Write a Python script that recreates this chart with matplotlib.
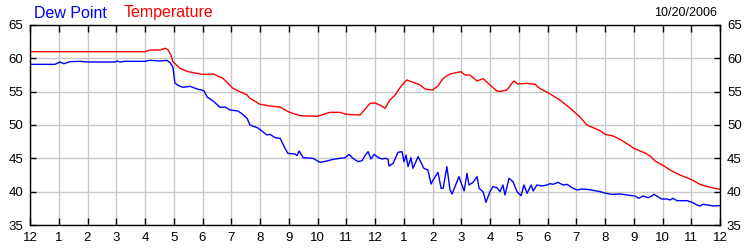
import matplotlib
matplotlib.use("Agg")
import matplotlib.pyplot as plt

plt.rcParams['font.family'] = ['Liberation Sans', 'DejaVu Sans']

# hours since midnight (0..24)
temp_hours = [0, 4.0, 4.17, 4.52, 4.70, 4.80, 4.90, 4.97, 5.22, 5.50, 5.98, 6.19, 6.37, 6.71,
              7.06, 7.30, 7.55, 7.65, 8.0, 8.35, 8.70, 9.0, 9.39, 10.0, 10.43, 10.78, 11.0,
              11.48, 11.83, 12.0, 12.17, 12.35, 12.52, 12.70, 12.87, 13.0, 13.11, 13.39,
              13.57, 13.74, 14.0, 14.19, 14.37, 14.61, 14.99, 15.13, 15.30, 15.55, 15.76,
              16.0, 16.24, 16.35, 16.59, 16.77, 16.83, 16.97, 17.29, 17.57, 17.74, 18.0,
              18.43, 18.78, 19.13, 19.37, 19.83, 20.0, 20.28, 20.52, 20.87, 21.0, 21.39,
              21.57, 21.74, 22.0, 22.26, 22.61, 22.99, 23.30, 23.65, 24.0]
temperature = [61.0, 61.0, 61.25, 61.25, 61.5, 61.3, 60.5, 59.5, 58.5, 58.0, 57.6, 57.6, 57.65,
               57.0, 55.5, 55.0, 54.5, 54.0, 53.1, 52.85, 52.7, 51.95, 51.4, 51.3, 51.9, 51.9,
               51.6, 51.5, 53.25, 53.3, 53.0, 52.5, 53.75, 54.5, 55.6, 56.3, 56.75, 56.3, 56.0,
               55.4, 55.25, 55.85, 57.0, 57.65, 58.0, 57.5, 57.5, 56.6, 56.95, 56.0, 55.1,
               55.05, 55.25, 56.3, 56.6, 56.15, 56.25, 56.1, 55.45, 54.9, 53.75, 52.55, 51.2,
               50.0, 49.15, 48.6, 48.35, 47.85, 46.9, 46.5, 45.8, 45.35, 44.6, 44.0, 43.25,
               42.5, 41.85, 41.1, 40.65, 40.35]

dew_hours = [0, 0.87, 1.04, 1.18, 1.39, 1.74, 2.0, 2.96, 3.03, 3.13, 3.30, 4.0, 4.17, 4.52,
             4.77, 4.87, 4.97, 5.04, 5.15, 5.32, 5.57, 5.81, 6.05, 6.16, 6.37, 6.61, 6.78,
             6.96, 7.23, 7.37, 7.55, 7.65, 7.83, 7.93, 8.24, 8.35, 8.52, 8.70, 8.87, 8.97,
             9.22, 9.29, 9.36, 9.50, 9.84, 10.09, 10.33, 10.54, 10.78, 10.96, 11.10, 11.23,
             11.41, 11.55, 11.65, 11.76, 11.86, 11.97, 12.10, 12.24, 12.35, 12.45, 12.49,
             12.63, 12.80, 12.94, 13.01, 13.08, 13.15, 13.25, 13.32, 13.50, 13.70, 13.84,
             13.95, 14.02, 14.19, 14.30, 14.37, 14.50, 14.61, 14.68, 14.92, 15.10, 15.20,
             15.27, 15.41, 15.55, 15.62, 15.76, 15.86, 16.0, 16.10, 16.24, 16.35, 16.45,
             16.52, 16.66, 16.80, 16.94, 17.08, 17.18, 17.29, 17.43, 17.50, 17.63, 17.81,
             17.98, 18.09, 18.19, 18.37, 18.54, 18.68, 18.85, 19.03, 19.20, 19.37, 19.58,
             19.83, 20.03, 20.24, 20.52, 20.77, 21.04, 21.18, 21.32, 21.50, 21.63, 21.70,
             21.84, 21.97, 22.16, 22.26, 22.37, 22.50, 22.85, 23.03, 23.20, 23.30, 23.41,
             23.58, 23.76, 24.0]
dew_point = [59.1, 59.1, 59.45, 59.2, 59.5, 59.55, 59.45, 59.45, 59.6, 59.45, 59.55, 59.55,
             59.7, 59.6, 59.7, 59.35, 58.7, 56.3, 55.95, 55.65, 55.8, 55.4, 55.15, 54.2, 53.6,
             52.65, 52.7, 52.25, 52.1, 51.7, 51.0, 50.0, 49.7, 49.55, 48.5, 48.6, 48.1, 48.0,
             46.5, 45.75, 45.65, 45.4, 46.1, 45.1, 45.0, 44.4, 44.6, 44.85, 45.0, 45.1, 45.6,
             45.0, 44.5, 44.65, 45.4, 46.0, 44.9, 45.6, 45.15, 44.9, 45.0, 44.9, 43.85, 44.25,
             45.9, 46.0, 44.5, 45.5, 43.75, 45.1, 43.5, 45.25, 43.5, 43.25, 41.15, 41.75,
             42.9, 40.5, 40.5, 43.75, 40.25, 39.65, 42.25, 40.1, 42.75, 41.0, 41.4, 42.25,
             40.5, 40.0, 38.4, 40.0, 40.75, 40.6, 40.0, 41.0, 39.5, 42.0, 41.5, 40.0, 39.4,
             41.0, 39.75, 41.0, 40.1, 41.0, 40.85, 41.0, 41.2, 41.1, 41.4, 41.0, 41.1, 40.6,
             40.25, 40.4, 40.35, 40.2, 40.0, 39.75, 39.6, 39.65, 39.5, 39.35, 39.0, 39.35,
             39.1, 39.35, 39.6, 39.25, 38.9, 38.9, 38.75, 39.0, 38.65, 38.65, 38.4, 38.0,
             37.85, 38.1, 38.0, 37.85, 37.9]

x_tick_labels = ['12', '1', '2', '3', '4', '5', '6', '7', '8', '9', '10', '11',
                 '12', '1', '2', '3', '4', '5', '6', '7', '8', '9', '10', '11', '12']
y_ticks = [35, 40, 45, 50, 55, 60, 65]

BLUE = '#0000ff'
RED = '#ff0000'

fig = plt.figure(figsize=(7.5, 2.5), dpi=100)
ax = fig.add_axes([0.04, 0.1, 0.92, 0.8])

ax.plot(temp_hours, temperature, color=RED, lw=1.0)
ax.plot(dew_hours, dew_point, color=BLUE, lw=1.0)

ax.set_xlim(0, 24)
ax.set_ylim(35, 65)
ax.set_xticks(range(25))
ax.set_xticklabels(x_tick_labels)
ax.set_yticks(y_ticks)
ax.grid(True, color='#c8c8c8', lw=1.0)
ax.set_axisbelow(True)

for s in ax.spines.values():
    s.set_color('black')
    s.set_linewidth(1.0)

ax.tick_params(axis='x', direction='in', length=5, width=1, top=True, bottom=True,
               labelsize=9.5, pad=5, colors='black')
ax.tick_params(axis='y', direction='in', length=4, width=1, left=True, right=True,
               labelleft=True, labelright=True, labelsize=9.5, pad=5)

fig.text(0.045, 0.948, 'Dew Point', color=BLUE, fontsize=11.5, ha='left', va='center')
fig.text(0.165, 0.948, 'Temperature', color=RED, fontsize=11.5, ha='left', va='center')
fig.text(0.956, 0.948, '10/20/2006', color='black', fontsize=9, ha='right', va='center')

fig.savefig('out.png', dpi=100)
